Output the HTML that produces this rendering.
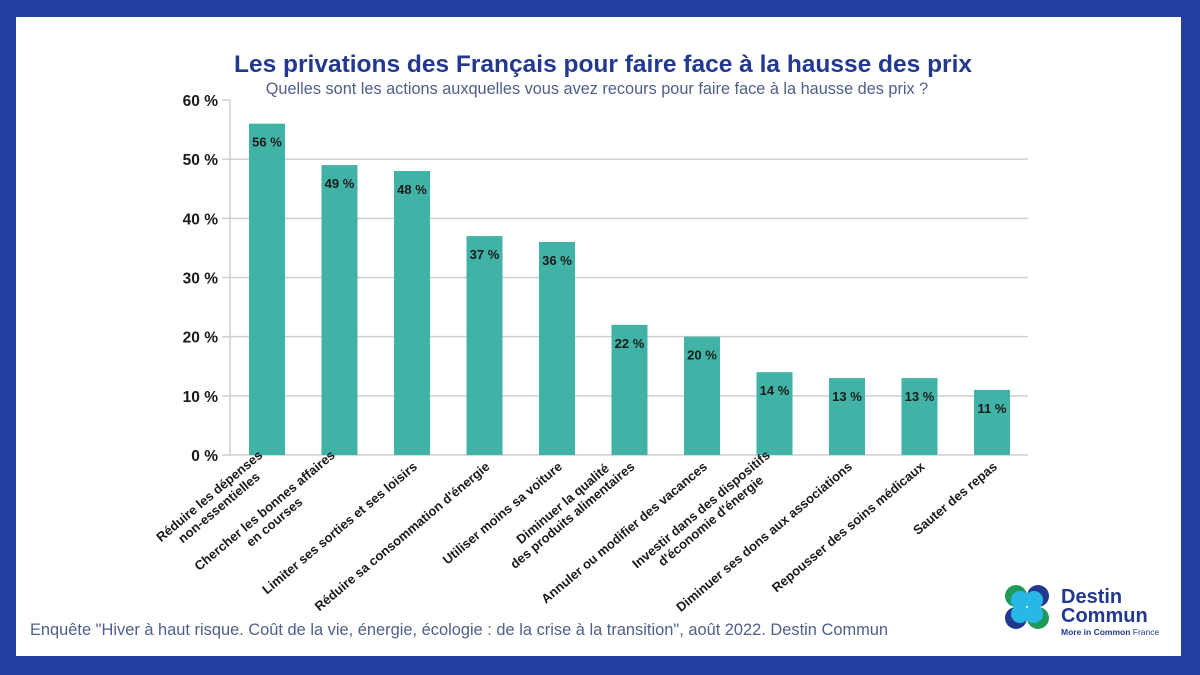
<!DOCTYPE html>
<html><head><meta charset="utf-8">
<style>
html,body{margin:0;padding:0;}
body{width:1200px;height:675px;background:#2340a0;position:relative;overflow:hidden;font-family:"Liberation Sans","DejaVu Sans",sans-serif;}
#panel{position:absolute;left:16px;top:17px;width:1165px;height:639px;background:#fff;}
svg{position:absolute;left:0;top:0;}
</style></head>
<body>
<div id="panel"></div>
<svg id="chart" width="1200" height="675">
<text x="603" y="72" text-anchor="middle" font-size="24.5" font-weight="bold" fill="#22398f">Les privations des Français pour faire face à la hausse des prix</text>
<text x="597" y="94" text-anchor="middle" font-size="16.3" fill="#4f5f8a">Quelles sont les actions auxquelles vous avez recours pour faire face à la hausse des prix ?</text>
<text x="30" y="635" font-size="16.4" fill="#4f5f8a" textLength="858">Enquête "Hiver à haut risque. Coût de la vie, énergie, écologie : de la crise à la transition", août 2022. Destin Commun</text>
<g>
<circle cx="1016" cy="596" r="11" fill="#1f9a5a"/><circle cx="1038" cy="596" r="11" fill="#22398f"/>
<circle cx="1016" cy="618" r="11" fill="#22398f"/><circle cx="1038" cy="618" r="11" fill="#1f9a5a"/>
<circle cx="1020" cy="600" r="9" fill="#27b8e6"/><circle cx="1034" cy="600" r="9" fill="#27b8e6"/>
<circle cx="1020" cy="614" r="9" fill="#27b8e6"/><circle cx="1034" cy="614" r="9" fill="#27b8e6"/>
<text x="1061" y="603" font-size="20" font-weight="bold" fill="#22398f">Destin</text>
<text x="1061" y="622" font-size="20" font-weight="bold" fill="#22398f">Commun</text>
<text x="1061" y="635" font-size="8.5" font-weight="bold" fill="#22398f">More in Common <tspan font-weight="normal">France</tspan></text>
</g>
</svg>
<script>
const categories=[["Réduire les dépenses","non-essentielles"],["Chercher les bonnes affaires","en courses"],["Limiter ses sorties et ses loisirs"],["Réduire sa consommation d'énergie"],["Utiliser moins sa voiture"],["Diminuer la qualité","des produits alimentaires"],["Annuler ou modifier des vacances"],["Investir dans des dispositifs","d'économie d'énergie"],["Diminuer ses dons aux associations"],["Repousser des soins médicaux"],["Sauter des repas"]];
const values=[56,49,48,37,36,22,20,14,13,13,11];
const yTicks=[0,10,20,30,40,50,60];
const NS="http://www.w3.org/2000/svg";
const svg=document.getElementById('chart');
const x0=230,x1=1028,y0=455,yTop=100;
const y=v=>y0-(v/60)*(y0-yTop);
const step=72.5,first=267,bw=36;
const xc=i=>first+i*step;
function mk(t,a,p){const e=document.createElementNS(NS,t);for(const k in a)e.setAttribute(k,a[k]);(p||svg).appendChild(e);return e;}
yTicks.forEach(t=>{
  const gl=mk('line',{x1:x0-8,x2:t===60?x0:x1,y1:y(t),y2:y(t),stroke:'#cfcfcf','stroke-width':1.5});
  
  
  const tx=mk('text',{x:x0-12,y:y(t)+6,'text-anchor':'end','font-size':15.5,'font-weight':'bold',fill:'#1a1a1a'});
  tx.textContent=t+' %';
  
  
});
const ax=mk('line',{x1:x0,x2:x0,y1:yTop,y2:y0,stroke:'#cfcfcf','stroke-width':1.5});


values.forEach((v,i)=>{
  const r=mk('rect',{x:xc(i)-bw/2,y:y(v),width:bw,height:y0-y(v),fill:'#40b3a6'});
  
  
  const t=mk('text',{x:xc(i),y:y(v)+23,'text-anchor':'middle','font-size':13,'font-weight':'bold',fill:'#1a1a1a'});
  t.textContent=v+' %';
  
  
  const g=mk('g',{transform:`translate(${xc(i)+6},${y0+13}) rotate(-40)`});
  
  
  const lines=categories[i];
  const els=lines.map((s,k)=>{const e=mk('text',{x:0,y:(k-(lines.length-1))*15,'text-anchor':'end','font-size':13,'font-weight':'bold',fill:'#1a1a1a'},g);e.textContent=s;return e;});
  if(lines.length>1){
    const w=els.map(e=>e.getComputedTextLength());
    const maxw=Math.max(...w);
    els.forEach((e,k)=>{e.setAttribute('x',-(maxw-w[k])/2);});
  }
  ax.parentNode.appendChild(ax);
});
</script>
</body></html>
